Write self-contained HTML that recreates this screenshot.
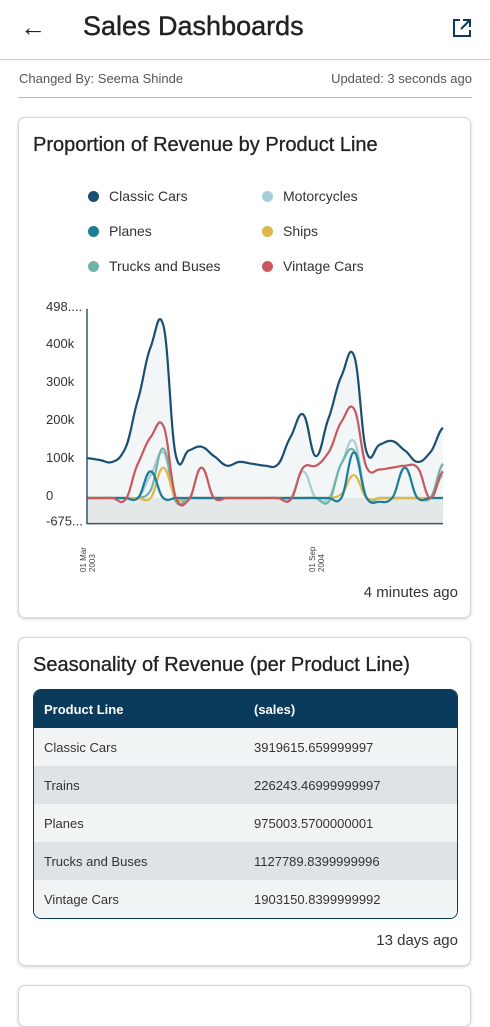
<!DOCTYPE html>
<html><head><meta charset="utf-8"><style>
body{margin:0;width:490px;height:1004px;overflow:hidden;background:#fff;font-family:"Liberation Sans",Roboto,sans-serif;color:#222;position:relative}
.abs{position:absolute}
.card{position:absolute;left:18px;width:451px;border:1px solid #d6d6d6;border-radius:7px;box-shadow:0 1px 3px rgba(0,0,0,.18);background:#fff}
.lg{position:absolute;font-size:14px;color:#333}
.lg i{position:absolute;left:-21px;top:3px;width:11px;height:11px;border-radius:50%}
table{border-collapse:collapse;width:100%;font-size:13px}
td{height:38px;padding:0 10px;color:#333}
</style></head><body>
<div class="abs" style="left:20px;top:12px;font-size:26px">&#8592;</div>
<div class="abs" style="left:83px;top:11px;font-size:27px;color:#222;-webkit-text-stroke:0.4px #222">Sales Dashboards</div>
<svg class="abs" style="left:452px;top:18px" width="20" height="20" viewBox="0 0 20 20"><path d="M8 2H2v16h16v-6" fill="none" stroke="#0a3a5c" stroke-width="2"/><path d="M11 2h7v7M18 2L9 11" fill="none" stroke="#0a3a5c" stroke-width="2"/></svg>
<div class="abs" style="left:0;top:59px;width:490px;height:1px;background:#ccc"></div>
<div class="abs" style="left:19px;top:71px;font-size:13px;color:#555">Changed By: Seema Shinde</div>
<div class="abs" style="right:18px;top:71px;font-size:13px;color:#555">Updated: 3 seconds ago</div>
<div class="abs" style="left:18px;top:97px;width:454px;height:1px;background:#bbb"></div>

<div class="card" style="top:117px;height:499px">
<div class="abs" style="left:14px;top:16px;font-size:20px;color:#222;-webkit-text-stroke:0.3px #222">Proportion of Revenue by Product Line</div>
<div class="lg" style="left:90px;top:70px"><i style="background:#1b4f72"></i>Classic Cars</div>
<div class="lg" style="left:264px;top:70px"><i style="background:#a9cdd5"></i>Motorcycles</div>
<div class="lg" style="left:90px;top:105px"><i style="background:#1d7d99"></i>Planes</div>
<div class="lg" style="left:264px;top:105px"><i style="background:#e0b84a"></i>Ships</div>
<div class="lg" style="left:90px;top:140px"><i style="background:#72b3a8"></i>Trucks and Buses</div>
<div class="lg" style="left:264px;top:140px"><i style="background:#c9585e"></i>Vintage Cars</div>
<div class="abs" style="right:12px;top:466px;font-size:15px;color:#333">4 minutes ago</div>
</div>
<svg id="chart" class="abs" style="left:0;top:0" width="490" height="620"></svg>

<div class="card" style="top:637px;height:327px">
<div class="abs" style="left:14px;top:16px;font-size:20px;color:#222;-webkit-text-stroke:0.3px #222">Seasonality of Revenue (per Product Line)</div>
<div class="abs" style="left:14px;top:51px;width:423px;border:1px solid #0a3a5c;border-radius:8px;overflow:hidden">
<table>
<tr style="background:#0a3a5c"><td style="color:#fff;font-weight:bold;width:190px">Product Line</td><td style="color:#fff;font-weight:bold">(sales)</td></tr>
<tr style="background:#f1f4f5"><td>Classic Cars</td><td>3919615.659999997</td></tr>
<tr style="background:#dde3e7"><td>Trains</td><td>226243.46999999997</td></tr>
<tr style="background:#f1f4f5"><td>Planes</td><td>975003.5700000001</td></tr>
<tr style="background:#dde3e7"><td>Trucks and Buses</td><td>1127789.8399999996</td></tr>
<tr style="background:#f1f4f5"><td>Vintage Cars</td><td>1903150.8399999992</td></tr>
</table></div>
<div class="abs" style="right:12px;top:294px;font-size:15px;color:#333">13 days ago</div>
</div>
<div class="card" style="top:985px;height:40px"></div>

<script>
const classicCars=[105,100,95,130,258,397,455,110,125,135,110,85,95,90,85,88,160,220,110,210,320,375,120,140,150,125,95,120,185];
const vintageCars=[0,0,0,-5,90,160,190,0,-5,80,0,0,0,0,0,0,-5,80,85,120,200,235,80,75,80,85,80,0,70];
const motorcycles=[0,0,0,0,0,60,120,0,0,0,0,0,0,0,0,0,0,70,0,0,90,150,0,0,0,0,0,0,60];
const planes=[0,0,0,0,0,70,0,0,0,0,0,0,0,0,0,0,0,0,0,0,0,120,0,-10,0,80,0,0,0];
const trucks=[0,0,0,0,0,20,130,-10,0,0,0,0,0,0,0,0,0,0,0,-10,90,125,0,0,0,0,0,0,90];
const ships=[0,0,0,0,0,0,80,0,0,0,0,0,0,0,0,0,0,0,0,0,10,60,0,0,0,0,0,0,0];
const yTicks=["498....","400k","300k","200k","100k","0","-675..."];
const yTickVals=[498,400,300,200,100,0,-67.5];
const xLabels=[["01 Mar","2003"],["01 Sep","2004"]];
const xLabelIdx=[0,18];
const svg=document.getElementById('chart');const NS='http://www.w3.org/2000/svg';
const X0=87,X1=443,n=classicCars.length;
const xs=i=>X0+i*(X1-X0)/(n-1);
const ys=v=>498-v*0.38;
function path(d){let p='M'+xs(0)+','+ys(d[0]);for(let i=0;i<d.length-1;i++){const p0=d[Math.max(0,i-1)],p1=d[i],p2=d[i+1],p3=d[Math.min(d.length-1,i+2)];const x1=xs(i),x2=xs(i+1),dx=(x2-x1)/2.4;p+=` C${x1+dx},${ys(p1+(p2-p0)/6)} ${x2-dx},${ys(p2-(p3-p1)/6)} ${x2},${ys(p2)}`;}return p;}
function mk(t,a){const e=document.createElementNS(NS,t);for(const k in a)e.setAttribute(k,a[k]);svg.appendChild(e);return e;}
const bg=mk('rect',{x:X0,y:ys(0),width:X1-X0,height:ys(-67.5)-ys(0),fill:'#e4e8e8'});


const af=mk('path',{d:path(classicCars)+` L${X1},${ys(0)} L${X0},${ys(0)} Z`,fill:'#f2f6f7'});


const series=[[motorcycles,'#a9cdd5','motorcycles-line'],[trucks,'#72b3a8','trucks-line'],[ships,'#e0b84a','ships-line'],[planes,'#1d7d99','planes-line'],[vintageCars,'#c9585e','vintage-cars-line'],[classicCars,'#1b4f72','classic-cars-line']];
series.forEach(s=>{const e=mk('path',{d:path(s[0]),fill:'none',stroke:s[1],'stroke-width':2.2});

});
const ax=mk('path',{d:`M${X0},${ys(498)} V${ys(-67.5)} H${X1}`,fill:'none',stroke:'#35566a','stroke-width':1.5});


yTicks.forEach((t,i)=>{const e=mk('text',{x:46,y:ys(yTickVals[i])+2,'font-size':13,fill:'#333','font-family':'Liberation Sans'});e.textContent=t;

});
xLabels.forEach((l,i)=>{const x=xs(xLabelIdx[i]);const g=mk('text',{transform:`translate(${x},${572}) rotate(-90)`,'font-size':8,fill:'#444','font-family':'Liberation Sans'});


g.innerHTML=`<tspan x="0" y="-1">${l[0]}</tspan><tspan x="0" y="8">${l[1]}</tspan>`;});
</script>
</body></html>
